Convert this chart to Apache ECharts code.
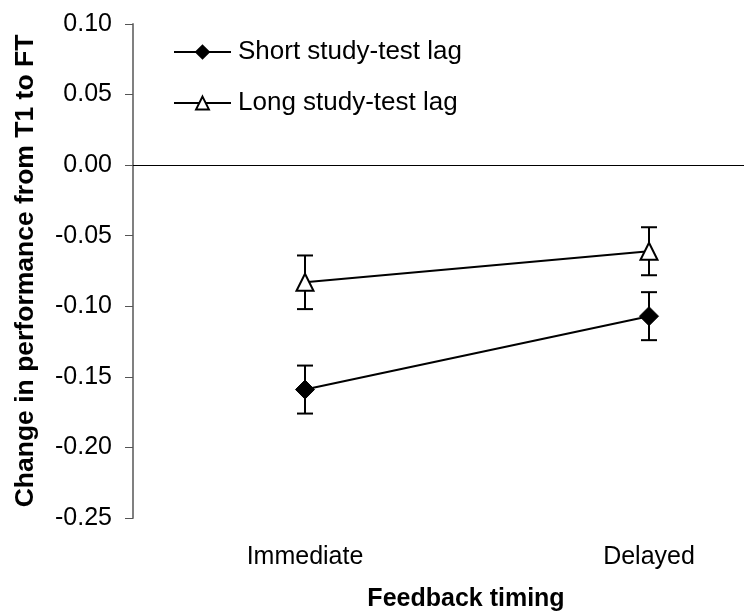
<!DOCTYPE html>
<html>
<head>
<meta charset="utf-8">
<script src="https://cdn.jsdelivr.net/npm/echarts@6/dist/echarts.min.js"></script>
<style>
  html, body { margin: 0; padding: 0; background: #fff; overflow: hidden; }
  /* plot area runs past the right edge of the window, so the canvas is wider */
  #chart { width: 840px; height: 613px; }
</style>
</head>
<body>
<div id="chart"></div>
<script>
// Feedback timing conditions
const categories = ['Immediate', 'Delayed'];

// Mean change in performance (T1 -> FT) and error bar half-widths
const shortLag = [-0.159, -0.107];
const shortLagErr = [0.017, 0.017];
const longLag = [-0.083, -0.061];
const longLagErr = [0.019, 0.017];

// Y-axis ticks
const yMin = -0.25;
const yMax = 0.10;
const yStep = 0.05;

const FONT = '"Liberation Sans", Arial, sans-serif';

function errorBarSeries(name, values, errs) {
  return {
    name: name + ' error',
    type: 'custom',
    z: 1,
    silent: true,
    data: values.map((v, i) => [i, v - errs[i], v + errs[i]]),
    renderItem: function (params, api) {
      const lo = api.coord([api.value(0), api.value(1)]);
      const hi = api.coord([api.value(0), api.value(2)]);
      const cap = 8;
      const style = { stroke: '#000', lineWidth: 2 };
      return {
        type: 'group',
        children: [
          { type: 'line', shape: { x1: lo[0], y1: lo[1], x2: hi[0], y2: hi[1] }, style },
          { type: 'line', shape: { x1: lo[0] - cap, y1: lo[1], x2: lo[0] + cap, y2: lo[1] }, style },
          { type: 'line', shape: { x1: hi[0] - cap, y1: hi[1], x2: hi[0] + cap, y2: hi[1] }, style }
        ]
      };
    }
  };
}

const chart = echarts.init(document.getElementById('chart'));
chart.setOption({
  animation: false,
  backgroundColor: '#fff',
  textStyle: { fontFamily: FONT },
  grid: {
    left: 133, top: 24, width: 688, height: 494,
    containLabel: false,
    outerBoundsMode: 'none'
  },
  title: {
    text: 'Feedback timing',
    left: 466,
    top: 587,
    padding: 0,
    textAlign: 'center',
    textStyle: { fontFamily: FONT, fontSize: 25, fontWeight: 'bold', color: '#000' }
  },
  legend: {
    orient: 'vertical',
    left: 173,
    top: 39,
    padding: 0,
    itemWidth: 57,
    itemHeight: 16,
    itemGap: 25,
    data: ['Short study-test lag', 'Long study-test lag'],
    textStyle: { fontFamily: FONT, fontSize: 26, color: '#000', padding: [0, 0, 0, 2] }
  },
  xAxis: {
    type: 'category',
    data: categories,
    boundaryGap: true,
    axisLine: { show: false },
    axisTick: { show: false },
    axisLabel: { margin: 27, fontSize: 25, color: '#000', fontFamily: FONT },
    splitLine: { show: false }
  },
  yAxis: {
    type: 'value',
    min: yMin,
    max: yMax,
    interval: yStep,
    name: 'Change in performance from T1 to FT',
    nameLocation: 'middle',
    nameGap: 94,
    nameTextStyle: { fontFamily: FONT, fontSize: 26.5, fontWeight: 'bold', color: '#000' },
    axisLine: { show: true, lineStyle: { color: '#808080', width: 2 } },
    axisTick: { show: true, inside: false, length: 8, lineStyle: { color: '#555', width: 1 } },
    axisLabel: {
      margin: 21,
      fontSize: 25,
      color: '#000',
      fontFamily: FONT,
      formatter: v => v.toFixed(2)
    },
    splitLine: { show: false }
  },
  series: [
    errorBarSeries('Short study-test lag', shortLag, shortLagErr),
    errorBarSeries('Long study-test lag', longLag, longLagErr),
    {
      name: 'Short study-test lag',
      type: 'line',
      z: 3,
      data: shortLag,
      symbol: 'diamond',
      symbolSize: 19,
      lineStyle: { color: '#000', width: 2 },
      itemStyle: { color: '#000', borderColor: '#000', borderWidth: 1 },
      markLine: {
        silent: true,
        symbol: 'none',
        label: { show: false },
        lineStyle: { color: '#000', width: 1, type: 'solid' },
        data: [{ yAxis: 0 }]
      }
    },
    {
      name: 'Long study-test lag',
      type: 'line',
      z: 3,
      data: longLag,
      symbol: 'triangle',
      symbolSize: 17,
      lineStyle: { color: '#000', width: 2 },
      itemStyle: { color: '#fff', borderColor: '#000', borderWidth: 2 }
    }
  ]
});
</script>
</body>
</html>
